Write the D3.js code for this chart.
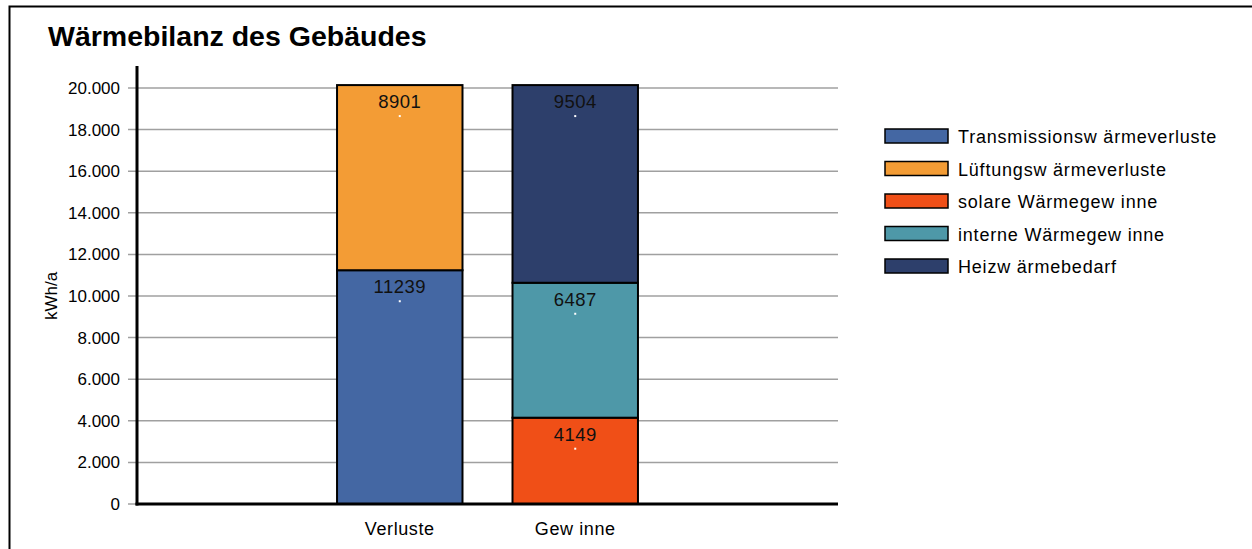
<!DOCTYPE html>
<html>
<head>
<meta charset="utf-8">
<script src="https://cdn.jsdelivr.net/npm/d3@7"></script>
<style>
  body { margin: 0; background: #fff; }
  svg { display: block; font-family: "Liberation Sans", Arial, sans-serif; }
</style>
</head>
<body>
<svg id="chart" width="1252" height="549"></svg>
<script>
// categories (two empty slots around the bars, like the original)
var categories = ['', 'Verluste', 'Gew inne', ' '];
var seriesNames = ['Transmissionsw ärmeverluste', 'Lüftungsw ärmeverluste',
                   'solare Wärmegew inne', 'interne Wärmegew inne', 'Heizw ärmebedarf'];
var seriesColors = ['#4467a3', '#f39c35', '#f04f17', '#4e98a8', '#2d3f6b'];
// stack order per category: series index and value
var verluste = [{s: 0, v: 11239}, {s: 1, v: 8901}];
var gewinne = [{s: 2, v: 4149}, {s: 3, v: 6487}, {s: 4, v: 9504}];
var yTicks = [0, 2000, 4000, 6000, 8000, 10000, 12000, 14000, 16000, 18000, 20000];

(function () {
  var svg = d3.select('#chart');
  var pLeft = 137, pRight = 838, pTop = 88, pBottom = 504;

  var x = d3.scaleBand().domain(categories).range([pLeft, pRight]).paddingInner(0.285).paddingOuter(0.14);
  var y = d3.scaleLinear().domain([0, 20000]).range([pBottom, pTop]);
  var fmt = function (d) { return d3.format(',')(d).replace(/,/g, '.'); };

  // outer frame
  svg.append('rect').attr('x', 9.5).attr('y', 6.5).attr('width', 1400).attr('height', 700)
    .attr('fill', 'none').attr('stroke', '#000').attr('stroke-width', 2);

  svg.append('text').attr('x', 48).attr('y', 46)
    .attr('font-size', '28.5px').attr('font-weight', 'bold').text('Wärmebilanz des Gebäudes');

  // gridlines + ticks
  svg.append('g').selectAll('line').data(yTicks).enter().append('line')
    .attr('x1', 128).attr('x2', pRight)
    .attr('y1', function (d) { return y(d); }).attr('y2', function (d) { return y(d); })
    .attr('stroke', '#a0a0a0').attr('stroke-width', 1.5);

  svg.append('g').selectAll('text').data(yTicks).enter().append('text')
    .attr('x', 120).attr('y', function (d) { return y(d) + 6; })
    .attr('text-anchor', 'end').attr('font-size', '17px').text(fmt);

  svg.append('text').attr('transform', 'translate(57,' + y(10000) + ') rotate(-90)')
    .attr('text-anchor', 'middle').attr('font-size', '17px').text('kWh/a');

  // stacked bars
  function drawStack(cat, parts) {
    var base = 0;
    parts.forEach(function (p) {
      var y0 = y(base), y1 = y(base + p.v);
      var g = svg.append('g');
      g.append('rect').attr('x', x(cat)).attr('y', y1)
        .attr('width', x.bandwidth()).attr('height', y0 - y1)
        .attr('fill', seriesColors[p.s]).attr('stroke', '#000').attr('stroke-width', 2);
      g.append('text').attr('x', x(cat) + x.bandwidth() / 2).attr('y', y1 + 23)
        .attr('text-anchor', 'middle').attr('font-size', '18.5px').attr('letter-spacing', '0.5px')
        .attr('fill', '#111').text(p.v);
      g.append('rect').attr('x', x(cat) + x.bandwidth() / 2 - 1).attr('y', y1 + 30)
        .attr('width', 2).attr('height', 2).attr('fill', '#fff');
      base += p.v;
    });
  }
  drawStack('Verluste', verluste);
  drawStack('Gew inne', gewinne);

  // axes
  svg.append('line').attr('x1', pLeft).attr('x2', pLeft).attr('y1', 66).attr('y2', pBottom + 1.5)
    .attr('stroke', '#000').attr('stroke-width', 3);
  svg.append('line').attr('x1', pLeft - 1.5).attr('x2', pRight).attr('y1', pBottom).attr('y2', pBottom)
    .attr('stroke', '#000').attr('stroke-width', 3);

  svg.append('g').selectAll('text').data(categories.filter(function (c) { return c.trim(); }))
    .enter().append('text')
    .attr('x', function (d) { return x(d) + x.bandwidth() / 2; }).attr('y', 535)
    .attr('text-anchor', 'middle').attr('font-size', '18px').attr('letter-spacing', '0.6px')
    .text(function (d) { return d; });

  // legend
  var legend = svg.append('g').selectAll('g').data(seriesNames).enter().append('g')
    .attr('transform', function (d, i) { return 'translate(885,' + (129 + i * 32.5) + ')'; });
  legend.append('rect').attr('width', 63).attr('height', 14)
    .attr('fill', function (d, i) { return seriesColors[i]; })
    .attr('stroke', '#000').attr('stroke-width', 1.5);
  legend.append('text').attr('x', 73).attr('y', 14).attr('font-size', '18px').attr('letter-spacing', '0.8px')
    .text(function (d) { return d; });
})();
</script>
</body>
</html>
